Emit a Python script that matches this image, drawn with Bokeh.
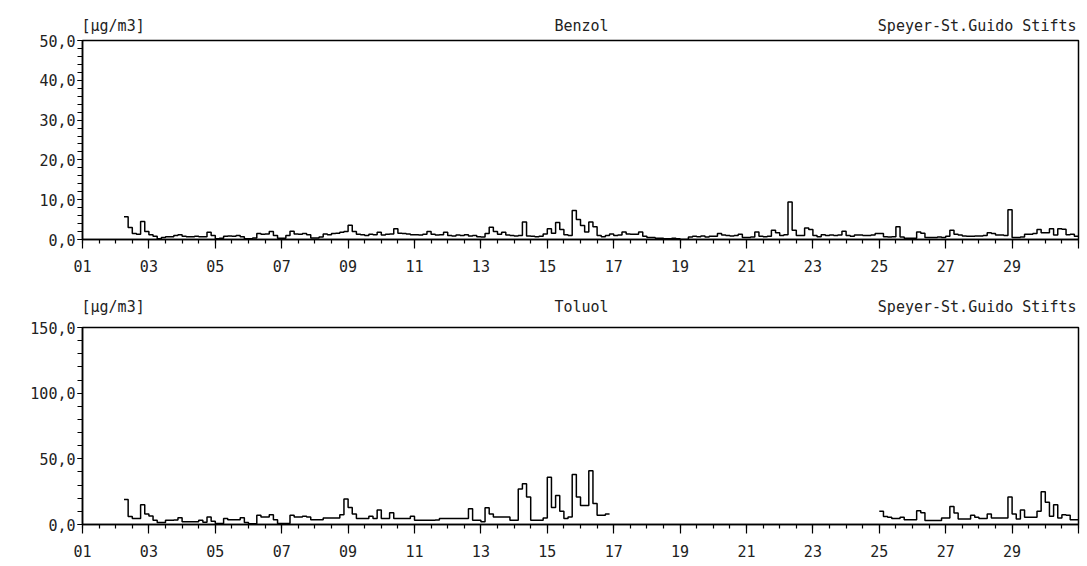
import numpy as np
from bokeh.plotting import figure
from bokeh.models import FixedTicker, Range1d, LinearAxis
from bokeh.layouts import column
from bokeh.embed import file_html
from bokeh.resources import INLINE

nan = float("nan")

# 3-hourly values (slots 00,03,...,21 h) for days 01..30
benzol = [
    nan, nan, nan, nan, nan, nan, nan, nan,          # 01
    nan, nan, 5.7, 3.0, 1.5, 1.3, 4.5, 2.0,          # 02
    1.2, 0.8, 0.2, 0.5, 0.7, 0.7, 1.0, 1.2,          # 03
    0.8, 0.7, 0.7, 0.8, 0.7, 0.7, 1.8, 1.0,          # 04
    0.2, 0.3, 0.8, 0.9, 0.8, 1.0, 0.7, 0.2,          # 05
    0.2, 0.4, 1.5, 1.3, 1.4, 2.0, 1.0, 0.3,          # 06
    0.3, 1.0, 2.1, 1.4, 1.3, 1.5, 1.2, 0.4,          # 07
    0.4, 0.6, 1.4, 1.2, 1.5, 1.6, 1.8, 2.0,          # 08
    3.6, 2.0, 1.3, 1.2, 1.0, 1.3, 1.2, 1.8,          # 09
    1.1, 1.3, 1.4, 2.7, 1.6, 1.5, 1.4, 1.2,          # 10
    1.2, 1.1, 1.3, 2.0, 1.3, 1.1, 1.2, 1.8,          # 11
    1.0, 0.9, 1.1, 1.0, 1.2, 0.9, 1.0, 0.7,          # 12
    0.6, 1.5, 3.1, 2.0, 1.3, 1.8, 1.1, 1.0,          # 13
    0.9, 1.0, 4.4, 0.9, 0.8, 0.7, 0.8, 1.4,          # 14
    2.7, 1.6, 4.3, 2.5, 1.2, 1.0, 7.3, 5.0,          # 15
    3.5, 1.9, 4.4, 3.2, 1.0, 0.7, 1.0, 1.4,          # 16
    1.0, 1.1, 1.9, 1.4, 1.3, 1.3, 1.9, 0.8,          # 17
    0.5, 0.5, 0.3, 0.3, 0.2, 0.2, 0.3, 0.2,          # 18
    0.0, 0.0, 0.6, 0.8, 0.7, 0.9, 0.6, 0.8,          # 19
    0.8, 1.5, 1.1, 1.0, 0.9, 1.0, 1.3, 0.5,          # 20
    0.5, 0.6, 1.9, 0.8, 0.7, 0.8, 2.3, 1.7,          # 21
    1.0, 1.2, 9.4, 2.3, 1.0, 1.0, 2.9, 2.5,          # 22
    1.0, 0.7, 1.2, 1.0, 1.1, 1.0, 1.1, 2.1,          # 23
    1.0, 0.8, 1.1, 1.1, 1.0, 1.0, 1.1, 1.5,          # 24
    1.5, 0.7, 0.6, 0.7, 3.2, 0.6, 0.3, 0.3,          # 25
    0.3, 1.9, 1.6, 0.5, 0.5, 0.5, 0.6, 0.5,          # 26
    0.8, 2.3, 1.3, 1.1, 0.9, 0.8, 0.8, 0.9,          # 27
    0.9, 1.0, 1.7, 1.5, 1.1, 1.1, 1.0, 7.5,          # 28
    0.5, 0.5, 0.6, 1.3, 1.3, 1.5, 2.5, 1.7,          # 29
    1.7, 2.7, 1.1, 2.7, 2.6, 1.2, 1.3, 0.8,          # 30
]

toluol = [
    nan, nan, nan, nan, nan, nan, nan, nan,          # 01
    nan, nan, 19.0, 6.0, 4.5, 4.5, 15.0, 8.0,        # 02
    6.5, 3.2, 1.5, 1.5, 3.2, 3.2, 3.5, 5.2,          # 03
    2.0, 2.0, 2.0, 2.0, 3.2, 1.8, 5.7, 2.5,          # 04
    0.7, 0.7, 4.5, 3.7, 3.7, 3.7, 5.2, 1.5,          # 05
    0.5, 0.5, 7.0, 5.7, 5.7, 7.5, 3.7, 0.7,          # 06
    0.7, 0.7, 7.0, 5.7, 5.7, 6.2, 5.7, 3.7,          # 07
    3.7, 3.7, 5.0, 5.0, 5.0, 5.0, 7.5, 19.5,         # 08
    13.0, 8.0, 4.5, 4.5, 4.5, 6.2, 4.5, 11.0,        # 09
    4.5, 4.5, 9.0, 4.5, 4.5, 4.5, 4.5, 6.2,          # 10
    3.2, 3.2, 3.2, 3.2, 3.2, 3.5, 4.5, 4.5,          # 11
    4.5, 4.5, 4.5, 4.5, 4.5, 12.0, 3.2, 3.2,         # 12
    2.0, 12.7, 8.0, 5.7, 5.7, 5.7, 5.7, 3.2,         # 13
    3.2, 27.0, 31.0, 21.0, 3.2, 3.2, 3.2, 5.0,       # 14
    36.0, 13.0, 22.0, 10.0, 4.5, 5.7, 38.0, 21.0,    # 15
    14.5, 14.5, 41.0, 16.0, 7.0, 7.0, 8.0, nan,      # 16
    nan, nan, nan, nan, nan, nan, nan, nan,          # 17
    nan, nan, nan, nan, nan, nan, nan, nan,          # 18
    nan, nan, nan, nan, nan, nan, nan, nan,          # 19
    nan, nan, nan, nan, nan, nan, nan, nan,          # 20
    nan, nan, nan, nan, nan, nan, nan, nan,          # 21
    nan, nan, nan, nan, nan, nan, nan, nan,          # 22
    nan, nan, nan, nan, nan, nan, nan, nan,          # 23
    nan, nan, nan, nan, nan, nan, nan, nan,          # 24
    10.0, 6.0, 5.5, 4.5, 4.5, 5.5, 3.7, 3.7,         # 25
    3.7, 10.5, 9.0, 3.0, 3.0, 3.0, 3.0, 5.0,         # 26
    5.0, 13.7, 8.7, 4.2, 4.2, 4.2, 7.0, 5.5,         # 27
    4.5, 4.5, 8.0, 5.0, 5.0, 5.0, 5.0, 21.0,         # 28
    8.0, 4.2, 11.0, 5.5, 5.5, 5.5, 10.0, 25.0,       # 29
    17.0, 6.2, 15.0, 5.0, 7.5, 7.0, 3.7, 3.7,        # 30
]

day_labels = ["01", "03", "05", "07", "09", "11", "13", "15",
              "17", "19", "21", "23", "25", "27", "29"]
unit_text = "[µg/m3]"
station = "Speyer-St.Guido Stifts"
titles = ["Benzol", "Toluol"]
y_max = [50, 150]
y_major = [[0, 10, 20, 30, 40, 50], [0, 50, 100, 150]]
y_minor_step = [2, 10]

FONT = "DejaVu Sans Mono"
FS = "15px"
CHAR_W = 0.602 * 15.0   # advance of the mono font, px
PX_PER_DAY = 996.0 / 30.0


def step_xy(values):
    v = np.array(values, dtype=float)
    n = len(v)
    starts = 1.0 + np.arange(n) * (3.0 / 24.0)
    edges = np.append(starts, 31.0)
    xs = np.repeat(edges, 2)[1:-1]
    ys = np.repeat(v, 2)
    return xs, ys


def make_panel(values, title, ymax, majors, mstep, height, top, bottom, head_standoff):
    p = figure(width=1082, height=height, output_backend="svg",
               toolbar_location=None,
               x_range=Range1d(1, 31), y_range=Range1d(0, ymax),
               min_border_left=82, min_border_right=4,
               min_border_top=top, min_border_bottom=bottom)
    p.background_fill_color = "white"
    p.border_fill_color = "white"
    p.xgrid.visible = False
    p.ygrid.visible = False
    p.outline_line_color = "black"
    p.outline_line_width = 1.5
    p.outline_line_alpha = 1.0

    xs, ys = step_xy(values)
    p.line(xs, ys, line_color="black", line_width=1.5)

    # x axis
    xt = [1 + 2 * i for i in range(16)]
    p.xaxis.ticker = FixedTicker(ticks=xt, minor_ticks=[1 + 0.5 * k for k in range(61)])
    p.xaxis.major_label_overrides = {t: (day_labels[i] if i < len(day_labels) else "")
                                     for i, t in enumerate(xt)}
    p.xaxis.major_tick_out = 9
    p.xaxis.major_tick_in = 0
    p.xaxis.minor_tick_out = 4
    p.xaxis.minor_tick_in = 0
    p.xaxis.major_label_standoff = 11

    # y axis
    p.yaxis.ticker = FixedTicker(ticks=majors, minor_ticks=list(range(0, ymax + 1, mstep)))
    p.yaxis.major_label_overrides = {t: f"{t},0" for t in majors}
    p.yaxis.major_tick_out = 5
    p.yaxis.major_tick_in = 0
    p.yaxis.minor_tick_out = 5
    p.yaxis.minor_tick_in = 0
    p.yaxis.major_label_standoff = 2

    for ax in (p.xaxis, p.yaxis):
        ax.axis_line_color = "black"
        ax.axis_line_width = 1.5
        ax.major_tick_line_color = "black"
        ax.minor_tick_line_color = "black"
        ax.major_tick_line_width = 1.2
        ax.minor_tick_line_width = 1.2
        ax.major_label_text_font = FONT
        ax.major_label_text_font_size = FS
        ax.major_label_text_color = "#222222"
        ax.major_label_text_font_style = "normal"

    # header line: unit (left), component (middle), station (right)
    c_unit = 1.0 + (len(unit_text) * CHAR_W / 2.0 - 1.0) / PX_PER_DAY
    c_title = 16.03
    c_station = 31.0 - (len(station) * CHAR_W / 2.0 + 2.0) / PX_PER_DAY
    head = LinearAxis(ticker=FixedTicker(ticks=[c_unit, c_title, c_station], minor_ticks=[]),
                      major_label_overrides={c_unit: unit_text, c_title: title,
                                             c_station: station},
                      axis_line_color=None, major_tick_line_color=None,
                      minor_tick_line_color=None, major_tick_out=0, major_tick_in=0,
                      major_label_standoff=head_standoff,
                      major_label_text_font=FONT, major_label_text_font_size=FS,
                      major_label_text_color="#222222")
    p.add_layout(head, "above")
    return p


p1 = make_panel(benzol, titles[0], y_max[0], y_major[0], y_minor_step[0], 290, 40, 51, 6)
p2 = make_panel(toluol, titles[1], y_max[1], y_major[1], y_minor_step[1], 275, 37, 41, 12)

layout = column(p1, p2, spacing=0)
open("out.html", "w").write(file_html(layout, INLINE))
